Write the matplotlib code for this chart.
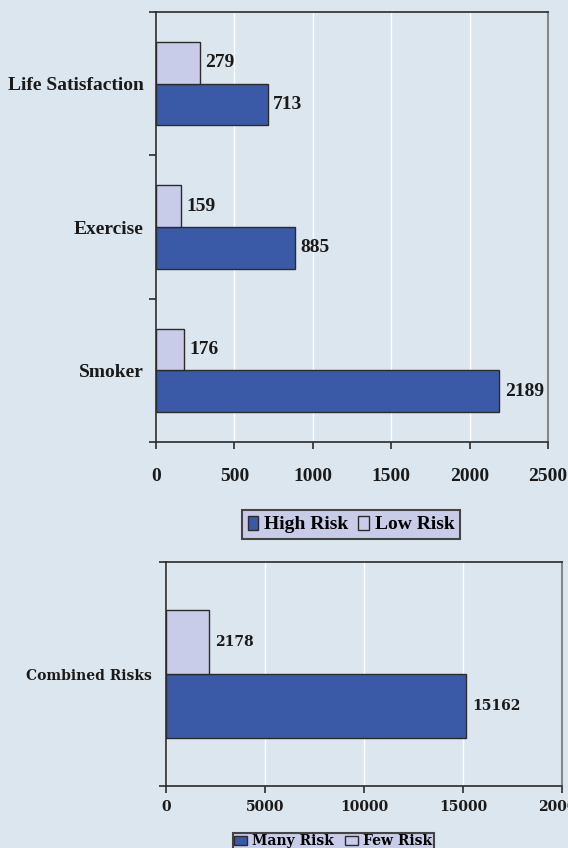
import matplotlib.pyplot as plt
import numpy as np

# data
categories = ["Smoker", "Exercise", "Life Satisfaction"]
high_risk = [2189, 885, 713]
low_risk = [176, 159, 279]

combined_cat = ["Combined Risks"]
many_risk = [15162]
few_risk = [2178]

BG = "#dce6ef"
DARK = "#3a5aa8"
LIGHT = "#c8cce8"
EDGE = "#2b2b2b"

fig = plt.figure(figsize=(5.68, 8.48), dpi=100, facecolor=BG)


def style_axes(ax, xmax, xstep, ncat, tick_font, tick_size, pad_x, pad_y):
    ax.set_facecolor(BG)
    ax.set_xlim(0, xmax)
    ax.set_ylim(-0.5, ncat - 0.5)
    ax.set_xticks(np.arange(0, xmax + 1, xstep))
    ax.grid(axis="x", color="white", linewidth=1.0)
    ax.set_axisbelow(True)
    # category boundaries as major ticks, labels on minor ticks
    ax.set_yticks(np.arange(-0.5, ncat, 1.0))
    ax.set_yticklabels([])
    ax.set_yticks(np.arange(ncat), minor=True)
    ax.tick_params(axis="y", which="major", length=5, width=1.2, color=EDGE)
    ax.tick_params(axis="y", which="minor", length=0, pad=pad_y)
    ax.tick_params(axis="x", length=5, width=1.2, color=EDGE, pad=pad_x)
    for lab in ax.get_xticklabels():
        lab.set_family(tick_font)
        lab.set_weight("bold")
        lab.set_size(tick_size)
        lab.set_color("#1a1a1a")
    for side in ("left", "bottom", "top"):
        ax.spines[side].set_color(EDGE)
        ax.spines[side].set_linewidth(1.2)
    ax.spines["right"].set_color("#888888")
    ax.spines["right"].set_linewidth(1.5)


def add_labels(ax, ys, vals, font, size):
    for y, v in zip(ys, vals):
        ax.annotate(str(v), (v, y), xytext=(4, 0), textcoords="offset points",
                    ha="left", va="center", family=font, weight="bold",
                    size=size, color="#1a1a1a")


# --- top chart ---
ax1 = fig.add_axes([156 / 568, 1 - 442 / 848, 392 / 568, 430 / 848])
y = np.arange(len(categories))
h = 0.29
b_hi = ax1.barh(y - h / 2, high_risk, height=h, color=DARK, edgecolor=EDGE, linewidth=1)
b_lo = ax1.barh(y + h / 2, low_risk, height=h, color=LIGHT, edgecolor=EDGE, linewidth=1)
style_axes(ax1, 2500, 500, len(categories), "Liberation Serif", 14, 14, 9)
ax1.set_yticklabels(categories, minor=True, family="Liberation Serif",
                    weight="bold", size=14, color="#1a1a1a")
add_labels(ax1, y - h / 2, high_risk, "Liberation Serif", 14)
add_labels(ax1, y + h / 2, low_risk, "Liberation Serif", 14)

leg1 = fig.legend([b_hi, b_lo], ["High Risk", "Low Risk"], loc="center",
                  bbox_to_anchor=(351 / 568, 1 - 524.5 / 848), ncol=2,
                  prop={"family": "Liberation Serif", "weight": "bold", "size": 14},
                  handlelength=0.55, handleheight=0.75, handletextpad=0.3,
                  columnspacing=0.5, borderpad=0.3, fancybox=False,
                  facecolor=LIGHT, edgecolor="#444444", framealpha=1)
leg1.get_frame().set_linewidth(1.5)

# --- bottom chart ---
ax2 = fig.add_axes([166 / 568, 1 - 786 / 848, 396 / 568, 224 / 848])
y2 = np.arange(len(combined_cat))
h2 = 0.286
b_many = ax2.barh(y2 - h2 / 2, many_risk, height=h2, color=DARK, edgecolor=EDGE, linewidth=1)
b_few = ax2.barh(y2 + h2 / 2, few_risk, height=h2, color=LIGHT, edgecolor=EDGE, linewidth=1)
style_axes(ax2, 20000, 5000, len(combined_cat), "DejaVu Serif", 10, 5, 10)
ax2.set_yticklabels(combined_cat, minor=True, family="DejaVu Serif",
                    weight="bold", size=10, color="#1a1a1a")
add_labels(ax2, y2 - h2 / 2, many_risk, "DejaVu Serif", 10)
add_labels(ax2, y2 + h2 / 2, few_risk, "DejaVu Serif", 10)

leg2 = fig.legend([b_many, b_few], ["Many Risk", "Few Risk"], loc="upper center",
                  bbox_to_anchor=(333.5 / 568, 1 - 826 / 848), ncol=2,
                  prop={"family": "DejaVu Serif", "weight": "bold", "size": 10},
                  handlelength=0.9, handleheight=0.6, handletextpad=0.4,
                  columnspacing=0.8, borderpad=0.1, fancybox=False,
                  facecolor=LIGHT, edgecolor="#444444", framealpha=1)
leg2.get_frame().set_linewidth(1.5)

fig.savefig("out.png", dpi=100, facecolor=BG)
